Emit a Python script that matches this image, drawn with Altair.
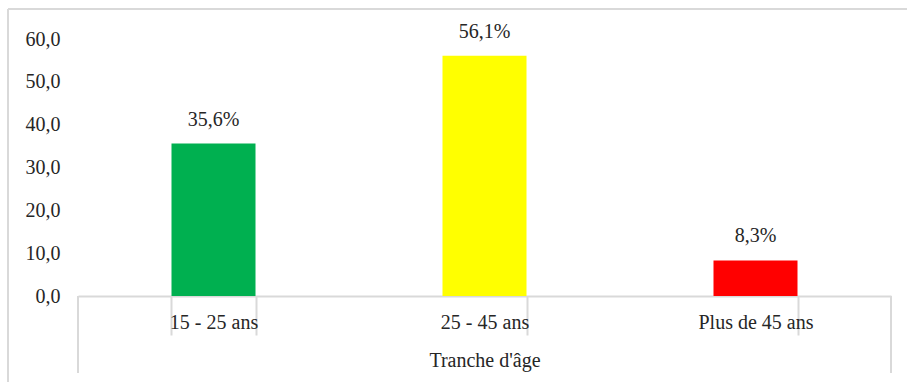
import altair as alt
import pandas as pd

categories = ["15 - 25 ans", "25 - 45 ans", "Plus de 45 ans"]
values = [35.6, 56.1, 8.3]
colors = ["#00B050", "#FFFF00", "#FF0000"]

df = pd.DataFrame({"cat": categories, "val": values, "col": colors})

W, H = 813, 257
FONT = "Liberation Serif"
FS = 20
GRAY = "#d9d9d9"
TXT = "#262626"

x = alt.X(
    "cat:N",
    sort=categories,
    scale=alt.Scale(paddingInner=0.69, paddingOuter=0.345),
    axis=alt.Axis(
        title="Tranche d'âge",
        labelAngle=0,
        domainColor=GRAY,
        domainWidth=2,
        tickColor=GRAY,
        tickWidth=2,
        tickSize=39,
        tickBand="extent",
        labelPadding=-23,
        titlePadding=14,
        labelFont=FONT,
        labelFontSize=FS,
        labelColor=TXT,
        titleFont=FONT,
        titleFontSize=FS,
        titleFontWeight="normal",
        titleColor=TXT,
    ),
)

y = alt.Y(
    "val:Q",
    scale=alt.Scale(domain=[0, 60], nice=False),
    axis=alt.Axis(
        title=None,
        values=[0, 10, 20, 30, 40, 50, 60],
        labelExpr="replace(format(datum.value, '.1f'), '.', ',')",
        domain=False,
        ticks=False,
        grid=False,
        labelPadding=18,
        labelFont=FONT,
        labelFontSize=FS,
        labelColor=TXT,
    ),
)

bars = alt.Chart(df).mark_bar().encode(
    x=x, y=y, color=alt.Color("col:N", scale=None)
)

labels = alt.Chart(df).transform_calculate(
    lab="replace(format(datum.val, '.1f'), '.', ',') + '%'"
).mark_text(baseline="bottom", dy=-14, font=FONT, fontSize=FS, color=TXT).encode(
    x=alt.X("cat:N", sort=categories), y="val:Q", text="lab:N"
)

border_top = alt.Chart(df).mark_rule(color=GRAY, strokeWidth=2).encode(
    x=alt.value(-70), x2=alt.value(W + 20), y=alt.value(-30)
)
border_left = alt.Chart(df).mark_rule(color=GRAY, strokeWidth=2).encode(
    x=alt.value(-70), y=alt.value(-30), y2=alt.value(H + 100)
)

outer_left = alt.Chart(df).mark_rule(color=GRAY, strokeWidth=2).encode(
    x=alt.value(0), y=alt.value(H), y2=alt.value(H + 77)
)
outer_right = alt.Chart(df).mark_rule(color=GRAY, strokeWidth=2).encode(
    x=alt.value(W), y=alt.value(H), y2=alt.value(H + 77)
)

chart = alt.layer(border_top, border_left, bars, labels, outer_left, outer_right).properties(
    width=W,
    height=H,
    background="white",
    autosize=alt.AutoSizeParams(type="none"),
    padding={"left": 78, "top": 39, "right": 16, "bottom": 86},
).configure_view(strokeWidth=0, stroke="transparent").configure_text(font=FONT).configure_axis(labelFont=FONT, titleFont=FONT)

chart.save("out.html", embed_options={"renderer": "svg", "actions": False})
